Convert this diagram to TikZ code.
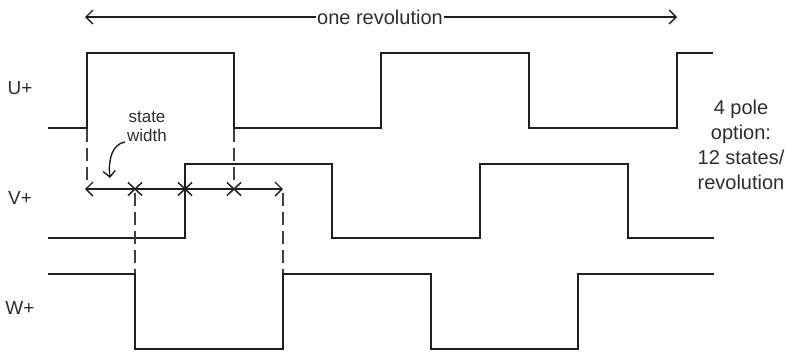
\documentclass[tikz,border=0pt]{standalone}
\usepackage{fontspec}
\setmainfont{Liberation Sans}
\usetikzlibrary{arrows.meta}
\begin{document}
\begin{tikzpicture}[x=1pt,y=-1pt,
  signal/.style={line width=1.8pt,draw=black!88,line join=miter},
  guide/.style={line width=1.1pt,draw=black!75,dash pattern=on 13pt off 6pt},
  dim/.style={line width=1.4pt,draw=black!88,{Straight Barb[length=7pt,width=14pt]}-{Straight Barb[length=7pt,width=14pt]}},
  lbl/.style={font=\fontsize{19}{20}\selectfont,text=black!82,inner sep=0pt},
  note/.style={font=\fontsize{20}{25}\selectfont,text=black!82,align=center,inner sep=0pt},
  small/.style={font=\fontsize{17}{20}\selectfont,text=black!82,align=center,inner sep=0pt},
  xmark/.style={line width=1.5pt,draw=black!88}]
\useasboundingbox (0,0) rectangle (791,354);
% labels
\node[lbl] (lu) at (20,88) {U+};
\node[lbl] (lv) at (20,198) {V+};
\node[lbl] (lw) at (20,308) {W+};
% signals
\draw[signal] (48,128) -- (87,128) -- (87,53) -- (234,53) -- (234,128) -- (381,128) -- (381,53) -- (529,53) -- (529,128) -- (677,128) -- (677,53) -- (713,53);
\draw[signal] (48,238) -- (185,238) -- (185,164) -- (332,164) -- (332,238) -- (480,238) -- (480,164) -- (628,164) -- (628,238) -- (714,238);
\draw[signal] (48,274) -- (135,274) -- (135,349) -- (283,349) -- (283,274) -- (431,274) -- (431,349) -- (578,349) -- (578,274) -- (714,274);
% one revolution
\node[font=\fontsize{20}{20}\selectfont,text=black!82,inner sep=1pt] (rev) at (380,17) {one revolution};
\coordinate (revL) at (85,17);
\coordinate (revR) at (677,17);
\draw[line width=1.4pt,draw=black!88,-{Straight Barb[length=7pt,width=14pt]}] (rev.west) -- (revL);
\draw[line width=1.4pt,draw=black!88,-{Straight Barb[length=7pt,width=14pt]}] (rev.east) -- (revR);
% guides
\draw[guide] (87,129) -- (87,185);
\draw[guide] (234,129) -- (234,185);
\draw[guide] (135,193) -- (135,273);
\draw[guide] (283,193) -- (283,273);
% state width dimension
\coordinate (swL) at (85,189);
\coordinate (swR) at (283,189);
\draw[dim] (swL) -- (swR);
\foreach \x/\n in {135/a,185/b,234/c}{
  \coordinate (x\n) at (\x,189);
  \draw[xmark] ([shift={(-7,-6.5)}]x\n) -- ([shift={(7,6.5)}]x\n);
  \draw[xmark] ([shift={(-7,6.5)}]x\n) -- ([shift={(7,-6.5)}]x\n);
}
\node[small] (sw) at (147,127) {state\\[-1pt]width};
\coordinate (swtip) at (110,178);
\draw[line width=1.4pt,draw=black!88,-{Straight Barb[length=6pt,width=12pt]}] (125,142) .. controls (112,144) and (108,160) .. (swtip);
% note
\node[note] (nt) at (741,145) {4 pole\\option:\\12 states/\\revolution};
\end{tikzpicture}
\end{document}
